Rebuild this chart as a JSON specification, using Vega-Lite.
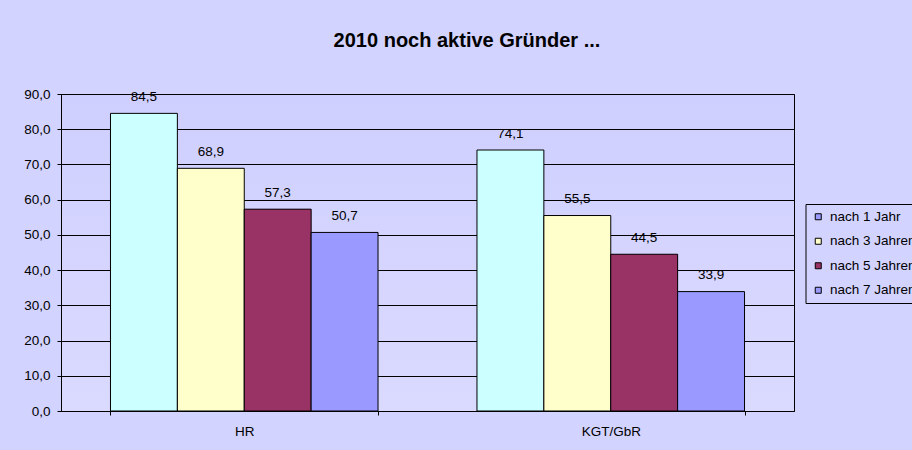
{
  "$schema": "https://vega.github.io/schema/vega-lite/v6.json",
  "width": 733,
  "height": 317,
  "autosize": "none",
  "padding": {"left": 61, "top": 94, "right": 118, "bottom": 39},
  "background": "#D3D3FF",
  "title": {
    "text": "2010 noch aktive Gründer ...",
    "font": "Liberation Sans",
    "fontSize": 20,
    "fontWeight": "bold",
    "color": "#000000",
    "anchor": "middle",
    "frame": "group",
    "dx": 39.5,
    "offset": 20,
    "baseline": "alphabetic"
  },
  "data": {
    "values": [
      {"gruppe": "HR", "serie": "nach 1 Jahr", "wert": 84.5},
      {"gruppe": "HR", "serie": "nach 3 Jahren", "wert": 68.9},
      {"gruppe": "HR", "serie": "nach 5 Jahren", "wert": 57.3},
      {"gruppe": "HR", "serie": "nach 7 Jahren", "wert": 50.7},
      {"gruppe": "KGT/GbR", "serie": "nach 1 Jahr", "wert": 74.1},
      {"gruppe": "KGT/GbR", "serie": "nach 3 Jahren", "wert": 55.5},
      {"gruppe": "KGT/GbR", "serie": "nach 5 Jahren", "wert": 44.5},
      {"gruppe": "KGT/GbR", "serie": "nach 7 Jahren", "wert": 33.9}
    ]
  },
  "encoding": {
    "x": {
      "field": "gruppe",
      "type": "nominal",
      "sort": ["HR", "KGT/GbR"],
      "scale": {"paddingInner": 0.27, "paddingOuter": 0.135},
      "axis": {
        "title": null,
        "labelAngle": 0,
        "labelFont": "Liberation Sans",
        "labelFontSize": 13.5,
        "labelColor": "#000000",
        "labelPadding": 9,
        "tickBand": "extent",
        "ticks": true,
        "tickSize": 4,
        "tickColor": "#000000",
        "domainColor": "#000000",
        "domainWidth": 1,
        "grid": false
      }
    },
    "xOffset": {
      "field": "serie",
      "type": "nominal",
      "sort": ["nach 1 Jahr", "nach 3 Jahren", "nach 5 Jahren", "nach 7 Jahren"],
      "scale": {"paddingInner": 0, "paddingOuter": 0}
    },
    "y": {
      "field": "wert",
      "type": "quantitative",
      "scale": {"domain": [0, 90], "nice": false},
      "axis": {
        "title": null,
        "values": [0, 10, 20, 30, 40, 50, 60, 70, 80, 90],
        "format": ".1f",
        "labelFont": "Liberation Sans",
        "labelFontSize": 13.5,
        "labelColor": "#000000",
        "labelPadding": 7,
        "tickSize": 4,
        "tickColor": "#000000",
        "domainColor": "#000000",
        "domainWidth": 1,
        "grid": true,
        "gridColor": "#000000",
        "gridWidth": 1,
        "gridOpacity": 1
      }
    }
  },
  "layer": [
    {
      "mark": {"type": "bar"},
      "encoding": {
        "color": {
          "field": "serie",
          "type": "nominal",
          "scale": {
            "domain": ["nach 1 Jahr", "nach 3 Jahren", "nach 5 Jahren", "nach 7 Jahren"],
            "range": ["#9999FF", "#FFFFCC", "#993366", "#9999FF"]
          },
          "legend": {
            "title": null,
            "orient": "none",
            "legendX": 744.5,
            "legendY": 110,
            "strokeColor": "#000000",
            "padding": 6,
            "rowPadding": 9.5,
            "labelFont": "Liberation Sans",
            "labelFontSize": 13.5,
            "labelColor": "#000000",
            "labelOffset": 5,
            "symbolType": "square",
            "symbolSize": 36,
            "symbolStrokeColor": "#000000",
            "symbolStrokeWidth": 1,
            "symbolOpacity": 1
          }
        }
      }
    },
    {
      "mark": {"type": "bar", "stroke": "#000000", "strokeWidth": 1},
      "encoding": {
        "fill": {
          "field": "serie",
          "type": "nominal",
          "scale": {
            "domain": ["nach 1 Jahr", "nach 3 Jahren", "nach 5 Jahren", "nach 7 Jahren"],
            "range": ["#CCFFFF", "#FFFFCC", "#993366", "#9999FF"]
          },
          "legend": null
        }
      }
    },
    {
      "mark": {
        "type": "text",
        "dy": -12.5,
        "baseline": "alphabetic",
        "font": "Liberation Sans",
        "fontSize": 13.5,
        "color": "#000000"
      },
      "encoding": {
        "text": {"field": "wert", "type": "quantitative", "format": ".1f"}
      }
    }
  ],
  "config": {
    "locale": {
      "number": {"decimal": ",", "thousands": ".", "grouping": [3], "currency": ["", " €"]}
    },
    "view": {
      "stroke": "#000000",
      "strokeWidth": 1,
      "fill": {
        "gradient": "linear",
        "x1": 0, "y1": 0, "x2": 0, "y2": 1,
        "stops": [
          {"offset": 0, "color": "#CFCFFF"},
          {"offset": 1, "color": "#DADAFF"}
        ]
      }
    }
  }
}
